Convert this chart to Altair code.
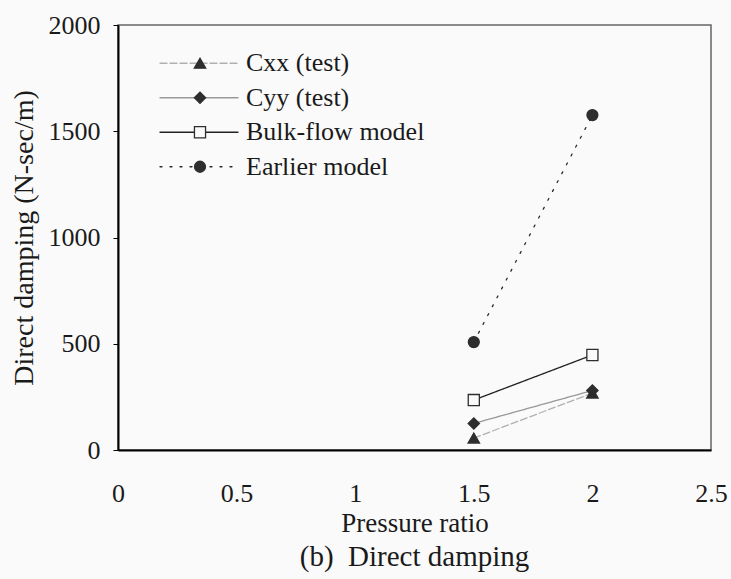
import altair as alt
import pandas as pd

# ---- data ----
ratios = [1.5, 2.0]
series_names = ["Cxx (test)", "Cyy (test)", "Bulk-flow model", "Earlier model"]
cxx = [56, 268]
cyy = [125, 280]
bulk = [235, 447]
earlier = [508, 1576]
x_ticks = [0, 0.5, 1, 1.5, 2, 2.5]
y_ticks = [0, 500, 1000, 1500, 2000]

rows = []
for name, vals in zip(series_names, [cxx, cyy, bulk, earlier]):
    for r, v in zip(ratios, vals):
        rows.append({"ratio": r, "value": v, "series": name})
df = pd.DataFrame(rows)
legend_df = pd.DataFrame({"series": series_names})

FONT = "Liberation Serif"
BG = "#fafafa"
DARK = "#2e2e2e"
TXT = "#1a1a1a"

line_color = alt.Color("series:N", legend=None,
                       scale=alt.Scale(domain=series_names,
                                       range=["#b0b0b0", "#999999", "#222222", "#2a2a2a"]))
line_dash = alt.StrokeDash("series:N", legend=None,
                           scale=alt.Scale(domain=series_names,
                                           range=[[7, 3], [1, 0], [1, 0], [2, 8]]))
line_width = alt.StrokeWidth("series:N", legend=None,
                             scale=alt.Scale(domain=series_names, range=[1.3, 1.3, 1.8, 3.4]))
pt_shape = alt.Shape("series:N", legend=None,
                     scale=alt.Scale(domain=series_names,
                                     range=["triangle-up", "diamond", "square", "circle"]))
pt_fill = alt.Fill("series:N", legend=None,
                   scale=alt.Scale(domain=series_names, range=[DARK, DARK, BG, DARK]))
pt_size = alt.Size("series:N", legend=None,
                   scale=alt.Scale(domain=series_names, range=[130, 120, 170, 160]))

x_enc = alt.X("ratio:Q", title="Pressure ratio",
              scale=alt.Scale(domain=[0, 2.5], nice=False, zero=False),
              axis=alt.Axis(values=x_ticks, format="~g", ticks=False, grid=False,
                            labelPadding=30, titlePadding=4, labelFlush=False,
                            labelFontSize=26, titleFontSize=27))
y_enc = alt.Y("value:Q", title="Direct damping (N-sec/m)",
              scale=alt.Scale(domain=[0, 2000], nice=False),
              axis=alt.Axis(values=y_ticks, format="d", grid=False, tickSize=5,
                            tickColor="black", labelPadding=13, titlePadding=10,
                            labelFontSize=26, titleFontSize=28))

lines = alt.Chart(df).mark_line(strokeCap="round").encode(
    x=x_enc, y=y_enc, color=line_color, strokeDash=line_dash, strokeWidth=line_width,
    detail="series:N")
points = alt.Chart(df).mark_point(filled=True, fillOpacity=1, opacity=1, strokeWidth=1.3).encode(
    x="ratio:Q", y="value:Q", shape=pt_shape, fill=pt_fill, size=pt_size,
    stroke=alt.value(DARK))
main = alt.layer(lines, points)

leg_y = alt.Y("series:N", axis=None,
              scale=alt.Scale(domain=series_names, range=[21, 159]))
leg_rule = alt.Chart(legend_df).mark_rule(strokeCap="round").encode(
    x=alt.value(42), x2=alt.value(120), y=leg_y,
    color=line_color, strokeDash=line_dash, strokeWidth=line_width)
leg_pt = alt.Chart(legend_df).mark_point(filled=True, fillOpacity=1, opacity=1, strokeWidth=1.3).encode(
    x=alt.value(82), y=leg_y, shape=pt_shape, fill=pt_fill, size=pt_size,
    stroke=alt.value(DARK))
leg_txt = alt.Chart(legend_df).mark_text(
    align="left", baseline="middle", font=FONT, fontSize=26, color=TXT).encode(
    x=alt.value(128), y=leg_y, text="series:N")
legend = alt.layer(leg_rule, leg_pt, leg_txt)

chart = alt.layer(main, legend).resolve_scale(y="independent").properties(
    width=593, height=425,
    autosize="none",
    padding={"left": 118, "top": 25, "right": 20, "bottom": 129},
    background=BG,
    title=alt.TitleParams("(b)\u00a0 Direct damping", orient="bottom", anchor="middle",
                          font=FONT, fontSize=29, fontWeight="normal", color=TXT,
                          offset=7),
).configure_view(stroke="#666", strokeWidth=1.5).configure_axis(
    domainColor="black", domainWidth=2, labelFont=FONT, titleFont=FONT,
    labelColor=TXT, titleColor=TXT, titleFontWeight="normal")

chart.save("out.html", embed_options={"renderer": "svg", "actions": False})
